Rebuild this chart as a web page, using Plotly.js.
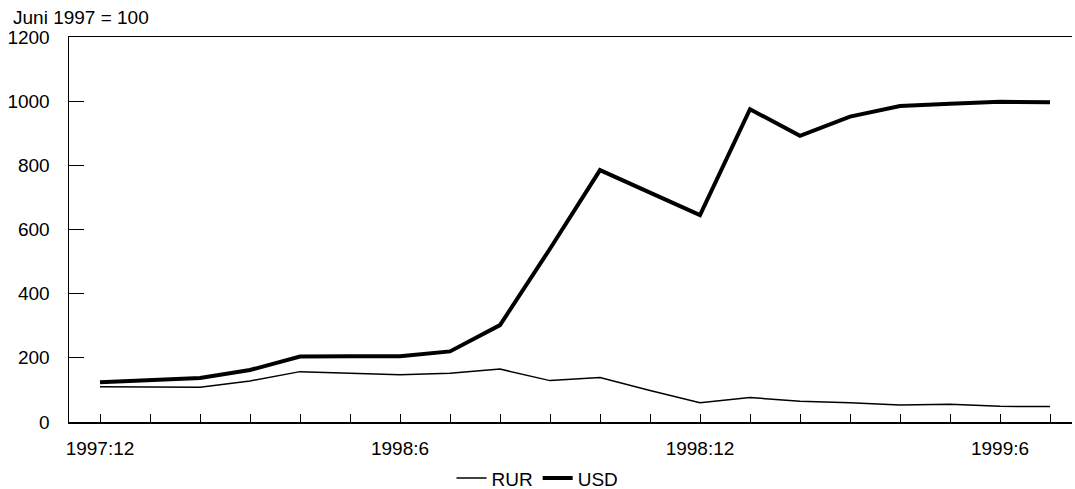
<!DOCTYPE html>
<html><head><meta charset="utf-8">
<script src="https://cdn.plot.ly/plotly-3.0.1.min.js"></script>
<style>html,body{margin:0;padding:0;background:#fff}#chart{width:1075px;height:489px}</style>
</head><body><div id="chart"></div>
<script>
const months = ["1997:12","1998:1","1998:2","1998:3","1998:4","1998:5","1998:6","1998:7","1998:8","1998:9","1998:10","1998:11","1998:12","1999:1","1999:2","1999:3","1999:4","1999:5","1999:6","1999:7"];
const tickLabels = ["1997:12","1998:6","1998:12","1999:6"];
const rur = [110,108,108,128,157,152,147,152,165,129,139,98,60,76,65,60,53,55,49,48];
const usd = [124,129,137,162,204,205,205,220,302,540,785,715,645,975,892,952,985,992,998,997];

const idx = months.map((m,i)=>i);
const ticktext = months.map(m => tickLabels.includes(m) ? m : "");
const font = {family:"Liberation Sans, Arial, sans-serif", size:19, color:"#000"};

Plotly.newPlot("chart", [
  {x: idx, y: rur, name:"RUR", mode:"lines", line:{color:"#000", width:1.5}},
  {x: idx, y: usd, name:"USD", mode:"lines", line:{color:"#000", width:4}}
], {
  width:1075, height:489,
  margin:{l:69, r:3, t:37, b:67, autoexpand:false},
  paper_bgcolor:"#fff", plot_bgcolor:"#fff",
  font: font,
  showlegend:true,
  legend:{orientation:"h", xref:"container", yref:"container", x:0.5, xanchor:"center", y:0.022, yanchor:"middle", font:font, itemwidth:30},
  xaxis:{range:[-0.62,19.44], tickmode:"array", tickvals:idx, ticktext:ticktext, automargin:false,
    ticks:"inside", ticklen:8, tickcolor:"#000", showline:true, linecolor:"#000", linewidth:1.5,
    mirror:true, showgrid:false, zeroline:false, ticklabelstandoff:9, tickangle:0},
  yaxis:{range:[0,1200], tickvals:[0,200,400,600,800,1000,1200], automargin:false,
    ticks:"inside", ticklen:15, tickcolor:"#000", showline:true, linecolor:"#000", linewidth:1.5,
    showgrid:false, zeroline:false, ticklabelstandoff:14},
  annotations:[{text:"Juni 1997 = 100", xref:"paper", yref:"paper", x:-0.058, y:1.0, xanchor:"left", yanchor:"bottom", yshift:7, showarrow:false, font:font}]
}, {staticPlot:true});
</script></body></html>
